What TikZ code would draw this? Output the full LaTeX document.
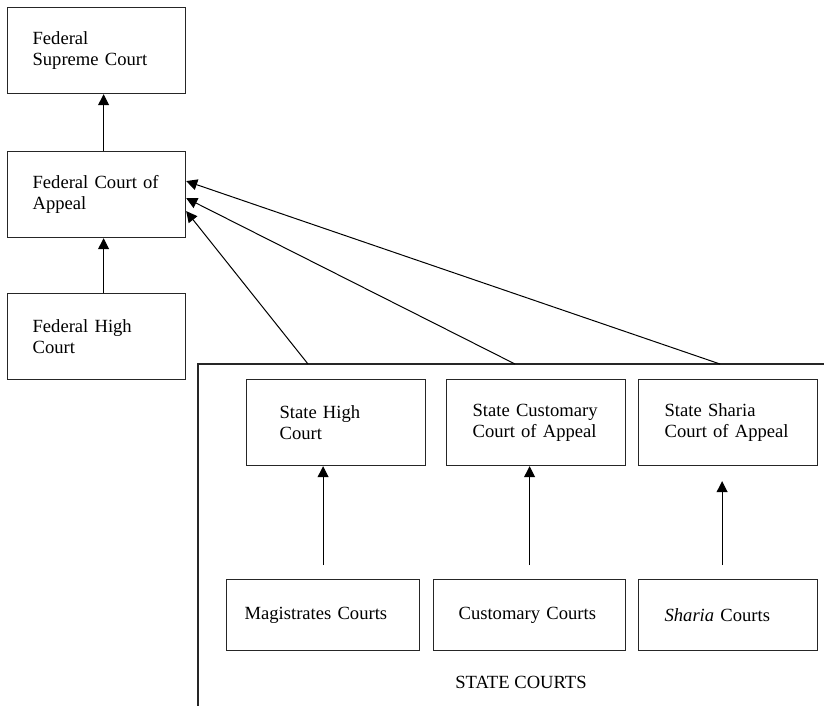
\documentclass[tikz,border=0pt]{standalone}
\usepackage{fontspec}
\setmainfont{Liberation Serif}
\usetikzlibrary{arrows.meta,positioning,calc}
\tikzset{
  court/.style={rectangle, draw=black!85, line width=1.2pt, align=left, anchor=north west,
    minimum height=86pt, inner ysep=0pt, font=\fontsize{18.6}{21.5}\selectfont},
  lowcourt/.style={court, minimum height=71pt},
  annot/.style={font=\fontsize{18.6}{21.5}\selectfont},
  flow/.style={-{Triangle[length=11pt,width=11pt]}, line width=1pt, draw=black},
  frame/.style={line width=1.2pt, draw=black!85},
}

\begin{document}
\begin{tikzpicture}[x=1pt,y=-1pt]
  \useasboundingbox (0,0) rectangle (824,706);
  % federal courts
  \node[court, text width=128pt, inner xsep=25pt] (fsc) at (7,7) {Federal\\Supreme Court};
  \node[court, text width=128pt, inner xsep=25pt] (fca) at (7,151) {Federal Court of\\Appeal};
  \node[court, text width=128pt, inner xsep=25pt] (fhc) at (7,293) {Federal High\\Court};
  % state courts
  \draw[frame] (824,364) -- (198,364) -- (198,706);
  \coordinate (t1) at (308,364);
  \coordinate (t2) at (515,364);
  \coordinate (t3) at (720,364);
  \node[court, text width=113pt, inner xsep=33pt] (shc) at (246,379) {State High\\Court};
  \node[court, text width=127pt, inner xsep=26pt] (scca) at (446,379) {State Customary\\Court of Appeal};
  \node[court, text width=127pt, inner xsep=26pt] (ssca) at (638,379) {State Sharia\\Court of Appeal};
  \node[lowcourt, text width=157pt, inner xsep=18pt] (mag) at (226,579) {Magistrates Courts};
  \node[lowcourt, text width=142pt, inner xsep=25pt] (cus) at (433,579) {Customary Courts};
  \node[lowcourt, text width=127pt, inner xsep=26pt] (sha) at (638,579) {\textit{Sharia} Courts};
  \node[annot] (sclabel) at (521,682) {STATE COURTS};
  % appeals
  \draw[flow] ([xshift=7pt]fhc.north) -- ([xshift=7pt]fca.south);
  \draw[flow] ([xshift=7pt]fca.north) -- ([xshift=7pt]fsc.south);
  \draw[flow] (t1) -- ([yshift=-16.5pt]fca.east);
  \draw[flow] (t2) -- ([yshift=-3.5pt]fca.east);
  \draw[flow] (t3) -- ([yshift=13.5pt]fca.east);
  \coordinate (magup) at ([yshift=14pt]mag.north);
  \coordinate (cusup) at ([yshift=14pt]cus.north);
  \coordinate (shaup) at ([xshift=-6pt,yshift=14pt]sha.north);
  \draw[flow] (magup) -- (magup |- shc.south);
  \draw[flow] (cusup) -- (cusup |- scca.south);
  \draw[flow, shorten >=15pt] (shaup) -- (shaup |- ssca.south);
\end{tikzpicture}
\end{document}
